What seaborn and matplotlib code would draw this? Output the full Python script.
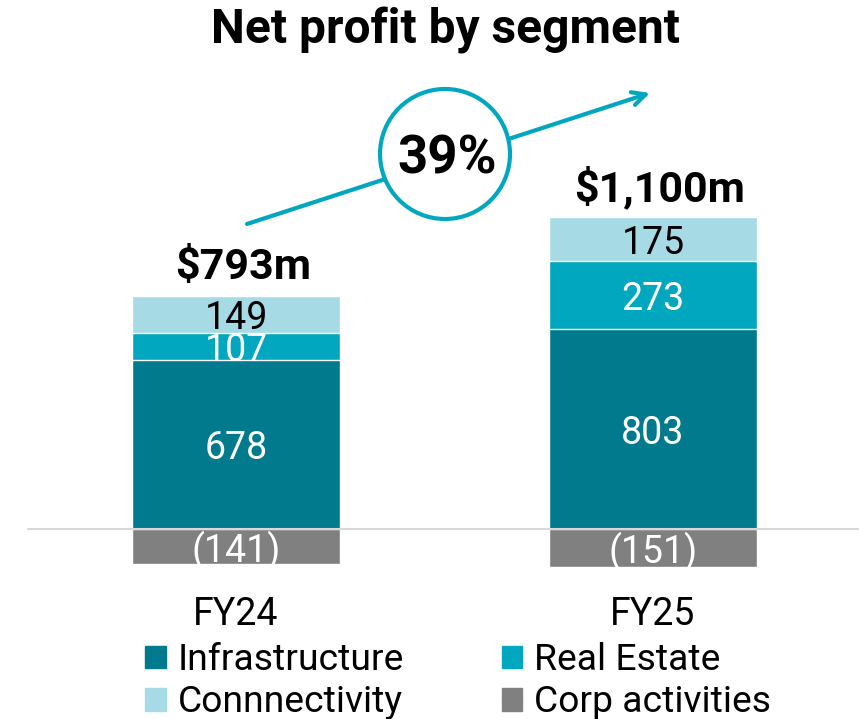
import matplotlib
matplotlib.use('Agg')
import matplotlib.pyplot as plt
import matplotlib.patches as mpatches
import pandas as pd
import seaborn as sns

# Data
categories = ['FY24', 'FY25']
infrastructure = [678, 803]
real_estate = [107, 273]
connectivity = [149, 175]
corp_activities = [-141, -151]
growth_label = '39%'

colors = {'Infrastructure': '#007A8C', 'Real Estate': '#00A7BF',
          'Connnectivity': '#A6DBE6', 'Corp activities': '#808080'}
arrow_color = '#00A7BF'

df = pd.DataFrame({'year': categories, 'Infrastructure': infrastructure,
                   'Real Estate': real_estate, 'Connnectivity': connectivity,
                   'Corp activities': corp_activities})
df['cum_infra'] = df['Infrastructure']
df['cum_re'] = df['cum_infra'] + df['Real Estate']
df['cum_conn'] = df['cum_re'] + df['Connnectivity']
df['total'] = df['cum_conn'] + df['Corp activities']

sns.set_theme(style='white')
plt.rcParams['font.family'] = ['Roboto', 'DejaVu Sans']
plt.rcParams['text.color'] = 'black'

W, H = 859, 719
fig = plt.figure(figsize=(W / 100, H / 100), dpi=100)
ax = fig.add_axes([0, 0, 1, 1])

# pixel mapping: bar centres at x=236 and 653, baseline y=529 from top
px_per_cat = 417
px_per_unit = 0.2492
xmin = -236 / px_per_cat
ymin = -(H - 529) / px_per_unit

# stacked bars: draw tallest cumulative first
for col, seg in [('cum_conn', 'Connnectivity'), ('cum_re', 'Real Estate'),
                 ('cum_infra', 'Infrastructure'), ('Corp activities', 'Corp activities')]:
    sns.barplot(data=df, x='year', y=col, color=colors[seg], width=0.5,
                saturation=1, ax=ax, errorbar=None)

ax.set_xlim(xmin, xmin + W / px_per_cat)
ax.set_ylim(ymin, ymin + H / px_per_unit)
ax.set_axis_off()
ax.axhline(0, xmin=28 / W, xmax=1, color='#D9D9D9', lw=1.5, zorder=5)


def seg_label(x, y, s, color):
    ax.annotate(s, (x, y), xytext=(0, -3), textcoords='offset points', ha='center',
                va='center', color=color, fontsize=27, zorder=6)


for i, row in df.iterrows():
    seg_label(i, row['cum_infra'] / 2, f"{row['Infrastructure']}", 'white')
    seg_label(i, row['cum_infra'] + row['Real Estate'] / 2, f"{row['Real Estate']}", 'white')
    seg_label(i, row['cum_re'] + row['Connnectivity'] / 2, f"{row['Connnectivity']}", 'black')
    seg_label(i, row['Corp activities'] / 2, f"({-row['Corp activities']})", 'white')
    ax.annotate(f"${row['total']:,}m", (i, row['cum_conn'] + 116), xytext=(5, 0),
                textcoords='offset points', ha='center', va='center', color='black',
                fontsize=31, fontweight='bold', zorder=6)
    ax.text(i, -342, row['year'], ha='center', va='center', color='black', fontsize=27)

# growth arrow with circle
ax.annotate('', xy=(650, H - 93), xytext=(247, H - 224), xycoords='figure pixels',
            textcoords='figure pixels',
            arrowprops=dict(arrowstyle='->,head_length=0.8,head_width=0.4', color=arrow_color,
                            lw=3, shrinkA=0, shrinkB=0))
circle = mpatches.Circle((445 / 100, (H - 154) / 100), 0.65, transform=fig.dpi_scale_trans,
                         facecolor='white', edgecolor=arrow_color, lw=3, zorder=10)
fig.add_artist(circle)
fig.text(447 / W, 1 - 159 / H, growth_label, ha='center', va='center', fontsize=38,
         fontweight='bold', zorder=11)

fig.text(446 / W, 1 - 31 / H, 'Net profit by segment', ha='center', va='center',
         fontsize=34.5, fontweight='bold')

# legend (column-wise fill: Infrastructure, Connnectivity | Real Estate, Corp activities)
order = ['Infrastructure', 'Connnectivity', 'Real Estate', 'Corp activities']
handles = [mpatches.Patch(color=colors[s], label=s) for s in order]
fig.legend(handles=handles, loc='upper left', bbox_to_anchor=(145 / W, 1 - 642 / H), ncol=2,
           frameon=False, fontsize=26.8, handlelength=0.56, handleheight=0.56,
           handletextpad=0.32, columnspacing=2.62, labelspacing=0.17, borderpad=0,
           borderaxespad=0)

fig.savefig('out.png', dpi=100)
